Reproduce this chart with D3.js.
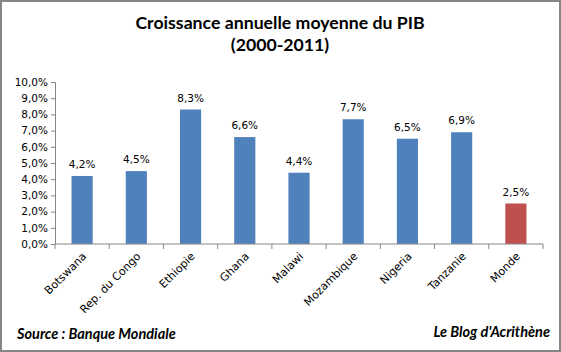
<!DOCTYPE html>
<html>
<head>
<meta charset="utf-8">
<script src="https://cdn.jsdelivr.net/npm/d3@7.9.0/dist/d3.min.js"></script>
<style>
  body { margin: 0; background: #fff; }
  svg { display: block; }
</style>
</head>
<body>
<div id="chart"></div>
<script>
// data
const countries = ["Botswana", "Rep. du Congo", "Ethiopie", "Ghana", "Malawi", "Mozambique", "Nigeria", "Tanzanie", "Monde"];
const growth = [4.2, 4.5, 8.3, 6.6, 4.4, 7.7, 6.5, 6.9, 2.5];
const yTicks = [0, 1, 2, 3, 4, 5, 6, 7, 8, 9, 10];
const titleLines = ["Croissance annuelle moyenne du PIB", "(2000-2011)"];

const W = 561, H = 352;
const margin = {top: 82, right: 18, bottom: 108, left: 55};
const width = W - margin.left - margin.right;
const height = H - margin.top - margin.bottom;

const fmt = v => v.toFixed(1).replace(".", ",") + "%";

const svg = d3.select("#chart")
    .append("svg")
    .attr("width", W)
    .attr("height", H);

// outer frame
svg.append("rect")
    .attr("x", 1)
    .attr("y", 1)
    .attr("width", W - 2)
    .attr("height", H - 2)
    .attr("fill", "#fff")
    .attr("stroke", "#868686")
    .attr("stroke-width", 2);

// title
svg.append("text")
    .attr("x", 280)
    .attr("y", 29)
    .attr("text-anchor", "middle")
    .attr("font-family", "Lato, 'Open Sans', sans-serif")
    .attr("font-size", "17.7px")
    .attr("font-weight", "bold")
    .selectAll("tspan")
    .data(titleLines)
    .join("tspan")
    .attr("x", 280)
    .attr("dy", (d, i) => i === 0 ? 0 : 22)
    .text(d => d);

const g = svg.append("g")
    .attr("transform", `translate(${margin.left},${margin.top})`);

// scales
const x = d3.scaleBand()
    .domain(countries)
    .range([0, width])
    .paddingInner(0.61)
    .paddingOuter(0.305);

const y = d3.scaleLinear()
    .domain([0, 10])
    .range([height, 0]);

// bars
g.selectAll(".bar")
    .data(countries)
    .join("rect")
    .attr("class", "bar")
    .attr("x", d => x(d))
    .attr("y", (d, i) => y(growth[i]))
    .attr("width", x.bandwidth())
    .attr("height", (d, i) => height - y(growth[i]))
    .attr("fill", d => d === "Monde" ? "#c0504d" : "#4f81bd");

// value labels
g.selectAll(".val")
    .data(countries)
    .join("text")
    .attr("class", "val")
    .attr("x", d => x(d) + x.bandwidth() / 2)
    .attr("y", (d, i) => y(growth[i]) - 8)
    .attr("text-anchor", "middle")
    .attr("font-family", "'DejaVu Sans', sans-serif")
    .attr("font-size", "10.5px")
    .attr("fill", "#000")
    .text((d, i) => fmt(growth[i]));

// y axis
const yAxis = g.append("g")
    .call(d3.axisLeft(y)
        .tickValues(yTicks)
        .tickSize(4)
        .tickPadding(3)
        .tickFormat(fmt));

// x axis with ticks between categories
const step = x.step();
const xAxis = g.append("g")
    .attr("transform", `translate(0,${height})`);

xAxis.append("line")
    .attr("x1", 0)
    .attr("x2", width)
    .attr("stroke", "#868686");

xAxis.selectAll(".xt")
    .data(d3.range(countries.length + 1))
    .join("line")
    .attr("class", "xt")
    .attr("x1", i => i * step)
    .attr("x2", i => i * step)
    .attr("y1", 0)
    .attr("y2", 5)
    .attr("stroke", "#868686");

xAxis.selectAll(".xl")
    .data(countries)
    .join("text")
    .attr("class", "xl")
    .attr("transform", d => `translate(${x(d) + x.bandwidth() / 2 + 5},${13}) rotate(-45)`)
    .attr("text-anchor", "end")
    .attr("font-family", "'DejaVu Sans', sans-serif")
    .attr("font-size", "11px")
    .attr("fill", "#000")
    .text(d => d);

yAxis.select(".domain").attr("stroke", "#868686");
yAxis.selectAll(".tick line").attr("stroke", "#868686");
yAxis.selectAll(".tick text")
    .attr("font-family", "'DejaVu Sans', sans-serif")
    .attr("font-size", "10.5px")
    .attr("fill", "#000");

// footer
svg.append("text")
    .attr("x", 17)
    .attr("y", 339)
    .attr("font-family", "Lato, 'Open Sans', sans-serif")
    .attr("font-size", "14.5px")
    .attr("font-weight", "bold")
    .attr("font-style", "italic")
    .text("Source : Banque Mondiale");

svg.append("text")
    .attr("x", 550)
    .attr("y", 337)
    .attr("text-anchor", "end")
    .attr("font-family", "Lato, 'Open Sans', sans-serif")
    .attr("font-size", "14.5px")
    .attr("font-weight", "bold")
    .attr("font-style", "italic")
    .text("Le Blog d'Acrithène");
</script>
</body>
</html>
